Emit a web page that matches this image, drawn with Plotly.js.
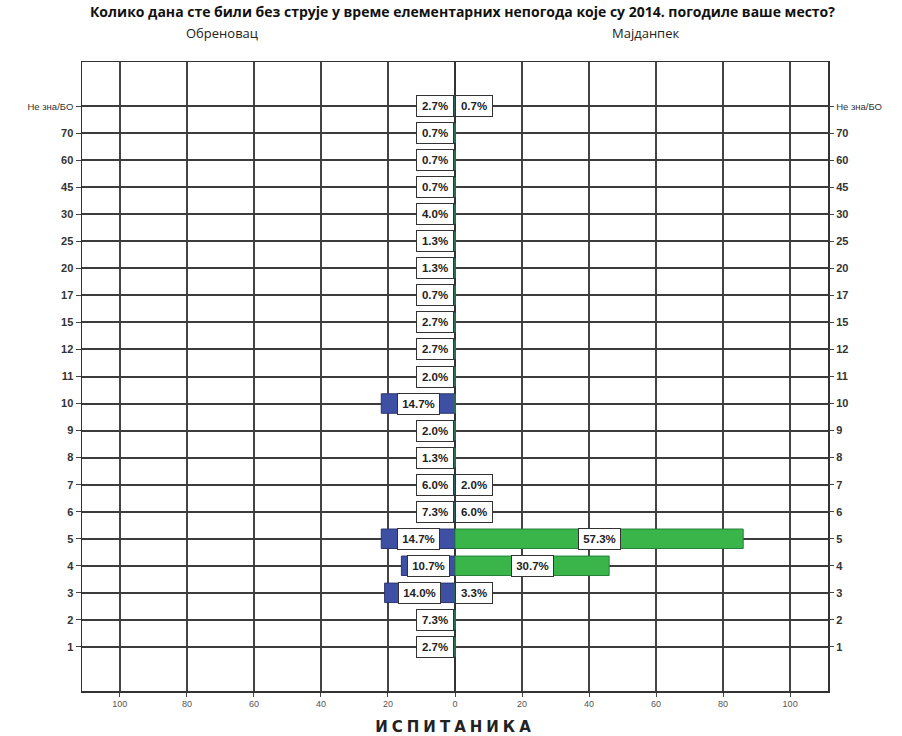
<!DOCTYPE html>
<html>
<head>
<meta charset="utf-8">
<script src="https://cdn.plot.ly/plotly-3.0.1.min.js"></script>
<style>
  html, body { margin: 0; padding: 0; background: #ffffff; }
  #chart { width: 902px; height: 736px; }
</style>
</head>
<body>
<div id="chart"></div>
<script>
// ---- data ----
const categories = ['1','2','3','4','5','6','7','8','9','10','11','12','15','17','20','25','30','45','60','70','Не зна/БО'];
const obrenovacCounts = [4, 11, 21, 16, 22, 11, 9, 2, 3, 22, 3, 4, 4, 1, 2, 2, 6, 1, 1, 1, 4];
const majdanpekCounts = [0, 0, 5, 46, 86, 9, 3, 0, 0, 0, 0, 0, 0, 0, 0, 0, 0, 0, 0, 0, 1];
const obrenovacTotal = 150;
const majdanpekTotal = 150;
const groupNames = ['Обреновац', 'Мајданпек'];
const xTickValues = [-100, -80, -60, -40, -20, 0, 20, 40, 60, 80, 100];
const xTickLabels = ['100', '80', '60', '40', '20', '0', '20', '40', '60', '80', '100'];
const chartTitle = 'Колико дана сте били без струје у време елементарних непогода које су 2014. погодиле ваше место?';
const xTitle = 'ИСПИТАНИКА';

const FONT = 'Liberation Sans, Arial, sans-serif';
const tickText = categories.map(c => c === 'Не зна/БО'
  ? '<span style="font-size:9.5px;font-weight:normal">' + c + '</span>'
  : c);

const pct = (c, n) => (c / n * 100).toFixed(1) + '%';

const traces = [
  {
    type: 'bar', orientation: 'h', name: groupNames[0],
    y: categories, x: obrenovacCounts.map(v => -v),
    marker: { color: '#3d50a4', line: { color: '#2a3570', width: 1 } },
    width: 0.72, hoverinfo: 'skip', xaxis: 'x', yaxis: 'y'
  },
  {
    type: 'bar', orientation: 'h', name: groupNames[1],
    y: categories, x: majdanpekCounts,
    marker: { color: '#3ab54a', line: { color: '#26803a', width: 1 } },
    width: 0.72, hoverinfo: 'skip', xaxis: 'x', yaxis: 'y'
  },
  {
    type: 'scatter', mode: 'markers', y: categories, x: categories.map(() => 0),
    marker: { opacity: 0, size: 1 }, hoverinfo: 'skip', showlegend: false,
    xaxis: 'x', yaxis: 'y2'
  }
];

const annotations = [];
const boxStyle = {
  showarrow: false, bgcolor: '#ffffff', bordercolor: '#333333', borderwidth: 1, borderpad: 2,
  height: 16, align: 'center', valign: 'middle',
  font: { family: FONT, size: 11.5, color: '#222222', weight: 'bold' }, yanchor: 'middle'
};
categories.forEach((cat, i) => {
  const a = obrenovacCounts[i];
  if (a > 0) {
    const big = a >= 12;
    const txt = pct(a, obrenovacTotal);
    annotations.push(Object.assign({}, boxStyle, {
      xref: 'x', yref: 'y', y: i, x: big ? -a / 2 : 0, width: txt.length > 4 ? 37 : 32,
      xanchor: big ? 'center' : 'right', xshift: big ? 0 : -1, text: txt
    }));
  }
  const b = majdanpekCounts[i];
  if (b > 0) {
    const big = b >= 12;
    const txt = pct(b, majdanpekTotal);
    annotations.push(Object.assign({}, boxStyle, {
      xref: 'x', yref: 'y', y: i, x: big ? b / 2 : 0, width: txt.length > 4 ? 37 : 32,
      xanchor: big ? 'center' : 'left', xshift: 0, text: txt
    }));
  }
});
annotations.push({
  xref: 'paper', yref: 'paper', x: 0.1877, y: 1.046, xanchor: 'center', yanchor: 'middle',
  showarrow: false, text: groupNames[0], font: { family: 'Open Sans, sans-serif', size: 13, color: '#222222' }
});
annotations.push({
  xref: 'paper', yref: 'paper', x: 0.756, y: 1.046, xanchor: 'center', yanchor: 'middle',
  showarrow: false, text: groupNames[1], font: { family: 'Open Sans, sans-serif', size: 13, color: '#222222' }
});

const yCommon = {
  type: 'category', categoryorder: 'array', categoryarray: categories,
  tickvals: categories, ticktext: tickText,
  range: [-1.63, 21.63],
  ticks: 'outside', ticklen: 5, tickcolor: '#444444', tickwidth: 1,
  tickfont: { family: FONT, size: 11, color: '#333333', weight: 'bold' },
  fixedrange: true
};

const layout = {
  width: 902, height: 736,
  paper_bgcolor: '#ffffff', plot_bgcolor: '#ffffff',
  margin: { l: 82, r: 74, t: 62, b: 45 },
  showlegend: false,
  barmode: 'overlay',
  title: {
    text: '<b>' + chartTitle + '</b>', xref: 'paper', x: 0.51, xanchor: 'center',
    yref: 'container', y: 0.983, yanchor: 'middle',
    font: { family: 'Open Sans, sans-serif', size: 14, color: '#111111' }
  },
  xaxis: {
    range: [-111.3, 111.3], tickvals: xTickValues, ticktext: xTickLabels,
    showgrid: true, gridcolor: '#444444', gridwidth: 1.5,
    zeroline: true, zerolinecolor: '#333333', zerolinewidth: 1.5,
    showline: true, linecolor: '#333333', linewidth: 1.5, mirror: true,
    ticks: 'outside', ticklen: 4, tickcolor: '#444444',
    tickfont: { family: FONT, size: 9, color: '#555555' },
    title: { text: xTitle, standoff: 14, font: { family: 'DejaVu Sans, sans-serif', size: 15, color: '#222222', weight: 'bold' } },
    fixedrange: true, automargin: false
  },
  yaxis: Object.assign({}, yCommon, {
    side: 'left', showgrid: true, gridcolor: '#3c3c3c', gridwidth: 2,
    showline: true, linecolor: '#333333', linewidth: 1.5, mirror: true, automargin: false
  }),
  yaxis2: Object.assign({}, yCommon, {
    side: 'right', overlaying: 'y', showgrid: false, showline: false, automargin: false
  }),
  annotations: annotations
};

Plotly.newPlot('chart', traces, layout, { staticPlot: true, displayModeBar: false }).then(gd => {
  const t = gd.querySelector('.xtitle');
  if (t) t.setAttribute('letter-spacing', '4px');
});
</script>
</body>
</html>
